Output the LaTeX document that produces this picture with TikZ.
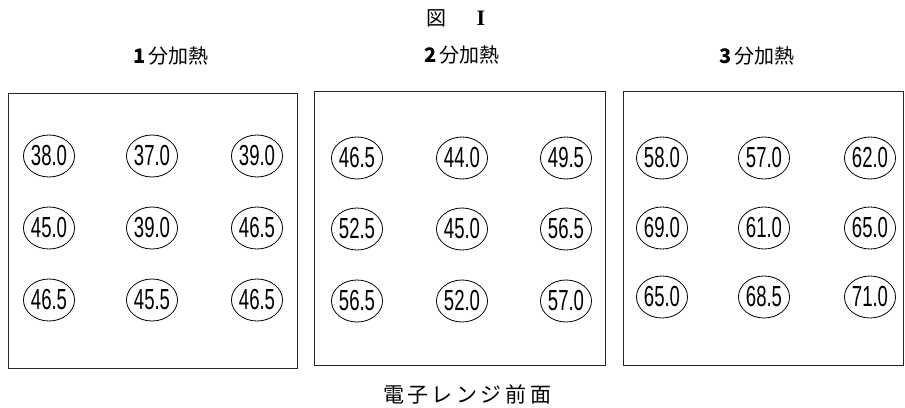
\documentclass[tikz,border=0pt]{standalone}
\usepackage{fontspec}
\usepackage{graphicx}
\setmainfont{Liberation Sans}
\newfontfamily\cjk{Noto Sans CJK JP}
\newfontfamily\rmserif{Liberation Serif}
\usetikzlibrary{shapes.geometric}
\tikzset{
  panel/.style={draw=black!85, line width=0.9pt},
  val/.style={ellipse, draw=black, line width=0.8pt, minimum width=47pt, minimum height=42pt, inner sep=0pt,
    font=\fontsize{29}{29}\selectfont},
  ttl/.style={font=\cjk\fontsize{20}{20}\selectfont, inner sep=0pt},
}
\newcommand{\nv}[1]{\scalebox{0.64}[1]{#1}}
\begin{document}
\begin{tikzpicture}[x=1pt,y=-1pt]
\useasboundingbox (0,0) rectangle (905,407);
\node[ttl] (fig) at (456,18) {図\hspace{30pt}{\rmserif\bfseries\fontsize{22}{22}\selectfont I}};
\node[ttl] (t1) at (171,56) {{\bfseries 1}\,分加熱};
\node[ttl] (t2) at (462,55) {{\bfseries 2}\,分加熱};
\node[ttl] (t3) at (757,56) {{\bfseries 3}\,分加熱};
\node[ttl, font=\cjk\fontsize{21}{21}\selectfont] (front) at (467,394) {電\,子\,レ\,ン\,ジ\,前\,面};
\draw[panel] (8,93) rectangle (297,368);
\draw[panel] (314,91) rectangle (605,365);
\draw[panel] (623,91) rectangle (903,365);
% panel 1
\node[val] (a11) at (49,156) {\nv{38.0}};
\node[val] (a12) at (152,156) {\nv{37.0}};
\node[val] (a13) at (257,156) {\nv{39.0}};
\node[val] (a21) at (49,228) {\nv{45.0}};
\node[val] (a22) at (152,228) {\nv{39.0}};
\node[val] (a23) at (257,228) {\nv{46.5}};
\node[val] (a31) at (49,300) {\nv{46.5}};
\node[val] (a32) at (152,300) {\nv{45.5}};
\node[val] (a33) at (257,300) {\nv{46.5}};
% panel 2
\node[val] (b11) at (357,158) {\nv{46.5}};
\node[val] (b12) at (462,158) {\nv{44.0}};
\node[val] (b13) at (566,158) {\nv{49.5}};
\node[val] (b21) at (357,229) {\nv{52.5}};
\node[val] (b22) at (462,229) {\nv{45.0}};
\node[val] (b23) at (566,229) {\nv{56.5}};
\node[val] (b31) at (357,301) {\nv{56.5}};
\node[val] (b32) at (462,301) {\nv{52.0}};
\node[val] (b33) at (566,301) {\nv{57.0}};
% panel 3
\node[val] (c11) at (662,158) {\nv{58.0}};
\node[val] (c12) at (764,158) {\nv{57.0}};
\node[val] (c13) at (870,158) {\nv{62.0}};
\node[val] (c21) at (662,228) {\nv{69.0}};
\node[val] (c22) at (764,228) {\nv{61.0}};
\node[val] (c23) at (870,228) {\nv{65.0}};
\node[val] (c31) at (662,297) {\nv{65.0}};
\node[val] (c32) at (764,297) {\nv{68.5}};
\node[val] (c33) at (870,297) {\nv{71.0}};
\end{tikzpicture}
\end{document}
